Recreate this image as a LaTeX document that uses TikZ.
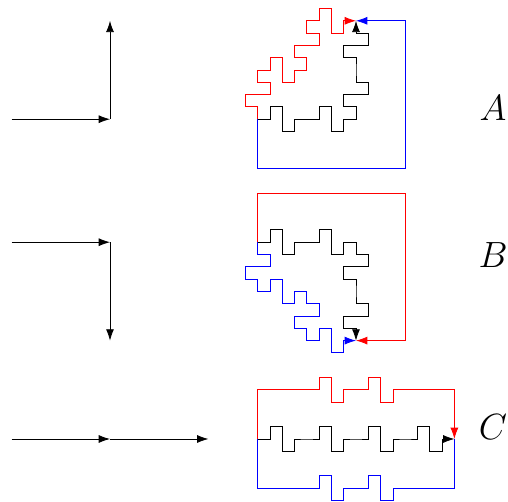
\documentclass[tikz,border=0pt]{standalone}
\usetikzlibrary{arrows.meta}
\begin{document}
\begin{tikzpicture}[x=9.225pt,y=9.225pt, line width=0.6pt, line join=miter,
  arr/.style={-{Latex[length=8.5pt,width=6pt]}},
  genR/.style={insert path={-- ++(1,0) -- ++(0,1) -- ++(1,0) -- ++(0,-2) -- ++(1,0) -- ++(0,1) -- ++(1,0)}},
  genU/.style={insert path={-- ++(0,1) -- ++(-1,0) -- ++(0,1) -- ++(2,0) -- ++(0,1) -- ++(-1,0) -- ++(0,1)}},
  genD/.style={insert path={-- ++(0,-1) -- ++(1,0) -- ++(0,-1) -- ++(-2,0) -- ++(0,-1) -- ++(1,0) -- ++(0,-1)}},
  lab/.style={font=\Huge, scale=1.1, inner sep=0pt}]
\useasboundingbox (-0.943,-31.122) rectangle (40.358,9.691);

% left: initiators
\coordinate (LA0) at (0,0);   \coordinate (LA1) at (8,0);   \coordinate (LA2) at (8,8);
\coordinate (LB0) at (0,-10); \coordinate (LB1) at (8,-10); \coordinate (LB2) at (8,-18);
\coordinate (LC0) at (0,-26); \coordinate (LC1) at (8,-26); \coordinate (LC2) at (16,-26);
\draw[arr] (LA0) -- (LA1);
\draw[arr] (LA1) -- (LA2);
\draw[arr] (LB0) -- (LB1);
\draw[arr] (LB1) -- (LB2);
\draw[arr] (LC0) -- (LC1);
\draw[arr] (LC1) -- (LC2);

% right: A
\coordinate (A0) at (20,0);  \coordinate (A2) at (28,8);
\draw[blue,arr] (A0) -- ++(0,-4) -- ++(12,0) -- ++(0,12) -- (A2);
\draw[red,arr] (A0) [genU][genR][genU][genR];
\draw[arr] (A0) [genR][genR][genU][genU];

% right: B
\coordinate (B0) at (20,-10);  \coordinate (B2) at (28,-18);
\draw[red,arr] (B0) -- ++(0,4) -- ++(12,0) -- ++(0,-12) -- (B2);
\draw[blue,arr] (B0) [genD][genR][genD][genR];
\draw[arr] (B0) [genR][genR][genD][genD];

% right: C
\coordinate (C0) at (20,-26);  \coordinate (C2) at (36,-26);
\draw[blue] (C0) -- ++(0,-4) -- ++(4,0) [genR][genR] -- ++(4,0) -- (C2);
\draw[arr] (C0) [genR][genR][genR][genR];
\draw[red,arr] (C0) -- ++(0,4) -- ++(4,0) [genR][genR] -- ++(4,0) -- (C2);

% labels
\node[lab] (labA) at (39.14,0.91) {$A$};
\node[lab] (labB) at (39.14,-11.04) {$B$};
\node[lab] (labC) at (39.14,-25.02) {$C$};
\end{tikzpicture}
\end{document}
